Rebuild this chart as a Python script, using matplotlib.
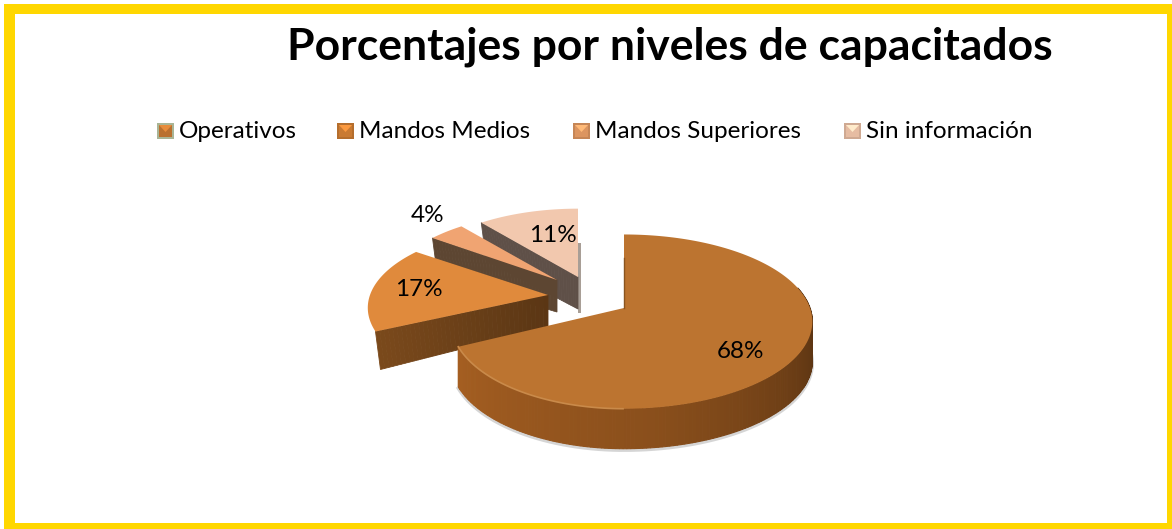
import matplotlib
matplotlib.use('Agg')
import matplotlib.pyplot as plt
from matplotlib.colors import to_rgb
import numpy as np

title = 'Porcentajes por niveles de capacitados'
categories = ['Operativos', 'Mandos Medios', 'Mandos Superiores', 'Sin información']
values = [68, 17, 4, 11]
labels = ['68%', '17%', '4%', '11%']

top_colors = ['#bc7430', '#e08a3c', '#f0a472', '#f2c8ae']
wall_colors = ['#6e3f16', '#6b4018', '#5d4632', '#5f5048']
legend_colors = ['#b9702f', '#c97a32', '#dc9560', '#e6bca2']
legend_x = [157, 337, 573, 844]
# vertex of every slice, px, pie is exploded so each one has its own
vertex = [(624, 308), (548, 295), (557, 280), (578, 277)]
# left rx, right rx, ry
radii = [(171, 186, 85), (178, 178, 80), (168, 168, 78), (170, 170, 79)]
label_pos = [(741, 352), (419, 290), (428, 216), (553, 236)]
depth = 40
persp = 0.156

plt.rcParams['font.family'] = ['Lato', 'DejaVu Sans']
fig = plt.figure(figsize=[11.72, 5.29], dpi=100)
ax = fig.add_axes([0, 0, 1, 1])
ax.set_xlim(0, 1172)
ax.set_ylim(529, 0)
ax.axis('off')


def project(theta, i, r=1.0):
    u = np.sin(theta) * r
    v = -np.cos(theta) * r
    s = 1 / (1 - persp * v)
    rl, rr, ry = radii[i]
    rx = np.where(u < 0, rl, rr)
    return vertex[i][0] + rx * u * s, vertex[i][1] + ry * v * s


def shade(col, f):
    return tuple(min(1, c * f) for c in to_rgb(col))


# yellow frame
ax.fill([4, 1172, 1172, 4], [4, 4, 529, 529], color='#ffd700', lw=0, zorder=0)
ax.fill([15, 1167, 1167, 15], [14, 14, 523, 523], color='white', lw=0, zorder=0)

ends = np.cumsum(values) / np.sum(values) * 2 * np.pi
starts = ends - np.array(values) / np.sum(values) * 2 * np.pi

for i in [3, 2, 1, 0]:
    th = np.linspace(starts[i], ends[i], 240)
    x, y = project(th, i)
    vx, vy = vertex[i]
    z = 2 + (3 - i) * 0.1 if i else 4

    if i > 0:
        # radial wall on the first edge of the slice, in small strips for the shading
        sx, sy = project(starts[i], i)
        n = 40
        for k in range(n):
            a, b = k / n, (k + 1) / n
            xa, xb = vx + (sx - vx) * a, vx + (sx - vx) * b
            ya, yb = vy + (sy - vy) * a, vy + (sy - vy) * b
            da, db = 32 + 6 * a, 32 + 6 * b
            f = 0.85 + 0.3 * a if i == 1 else 1.0
            ax.fill([xa, xb, xb + 5 * b, xa + 5 * a], [ya, yb, yb + db, ya + da],
                    color=shade(wall_colors[i], f), lw=0.6, zorder=z)
        if i == 3:
            ax.fill([vx, vx + 3, vx + 3, vx], [vy - 34, vy - 34, vy + 36, vy + 36],
                    color='#a89e96', lw=0, zorder=z - 0.05)
    else:
        ax.plot([vx, vx], [vy - 50, vy], color='#8a5520', lw=1, zorder=z + 0.02)
        # only the front part of the rim shows
        vis = th > np.pi * 0.42
        # soft shadow below the outer wall
        ax.plot(x[vis], y[vis] + depth + 1.5, color='#888888', alpha=0.35, lw=2.5, zorder=z - 0.05)
        # outer wall, shaded along the arc
        for k in range(len(th) - 1):
            if not vis[k]:
                continue
            t = (th[k] - starts[i]) / (ends[i] - starts[i])
            f = np.interp(t, [0, 0.2, 0.42, 0.7, 1], [0.6, 0.55, 0.85, 1.25, 1.5])
            ax.fill([x[k], x[k + 1], x[k + 1], x[k]],
                    [y[k], y[k + 1], y[k + 1] + depth, y[k] + depth],
                    color=shade(wall_colors[0], f), lw=0.8, zorder=z)

    # top surface
    ax.fill(np.r_[vx, x], np.r_[vy, y], color=top_colors[i], lw=0, zorder=z + 0.01)
    if i == 0:
        # bevel on the front rim
        front = th > np.pi
        ax.plot(x[front], y[front], color='#c98a4a', lw=1.2, zorder=z + 0.015)
    ax.text(label_pos[i][0], label_pos[i][1], labels[i], fontsize=17.5, color='black',
            ha='center', va='center', zorder=6)

ax.text(670, 47, title, fontsize=32, fontweight='bold', color='black', ha='center', va='center')

# legend
for i in range(len(categories)):
    lx = legend_x[i]
    edge = '#a9b596' if i == 0 else shade(legend_colors[i], 0.9)
    ax.fill([lx, lx + 17, lx + 17, lx], [123, 123, 139, 139], color=edge, lw=0)
    ax.fill([lx + 2, lx + 15, lx + 15, lx + 2], [125, 125, 137, 137], color=legend_colors[i], lw=0)
    ax.fill([lx + 2, lx + 15, lx + 8.5], [125, 125, 132], color=shade(legend_colors[i], 1.25), lw=0)
    ax.text(lx + 22, 131, categories[i], fontsize=17.5, color='black', ha='left', va='center')

plt.savefig('out.png', dpi=100)
